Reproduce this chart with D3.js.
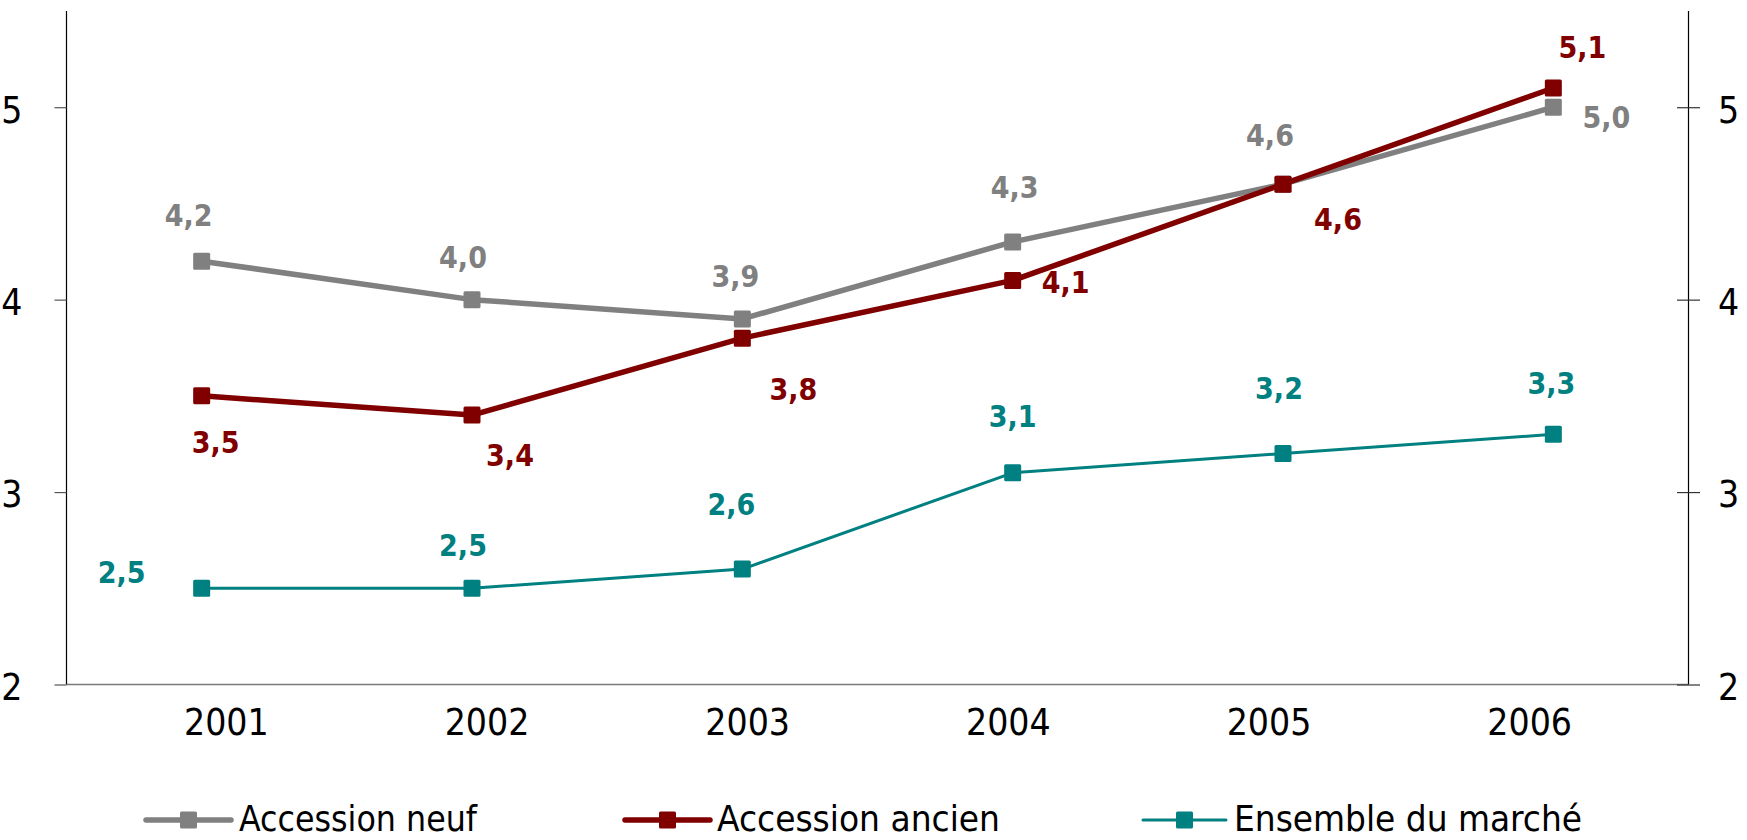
<!DOCTYPE html>
<html>
<head>
<meta charset="utf-8">
<script src="https://cdn.jsdelivr.net/npm/d3@7/dist/d3.min.js"></script>
<style>
  html, body { margin: 0; padding: 0; background: #fff; }
  svg { display: block; }
  text { font-family: "DejaVu Sans Condensed", "DejaVu Sans", "Liberation Sans", sans-serif; font-stretch: condensed; }
</style>
</head>
<body>
<svg id="chart" width="1747" height="840"></svg>
<script>
// ---- data ----
const years = ["2001", "2002", "2003", "2004", "2005", "2006"];
const accessionNeuf   = [4.2, 4.0, 3.9, 4.3, 4.6, 5.0];
const accessionAncien = [3.5, 3.4, 3.8, 4.1, 4.6, 5.1];
const ensembleMarche  = [2.5, 2.5, 2.6, 3.1, 3.2, 3.3];
const yTicks = [2, 3, 4, 5];
const seriesNames = ["Accession neuf", "Accession ancien", "Ensemble du marché"];

// ---- layout ----
const plotLeft = 66.5, plotRight = 1688.5, plotTop = 11, plotBottom = 684.5;

const svg = d3.select("#chart");

const x = d3.scaleBand().domain(years).range([plotLeft, plotRight]).padding(0);
const xLab = d3.scaleBand().domain(years).range([96, 1660]).padding(0);
const y = d3.scaleLinear().domain([2, 5.5]).range([plotBottom, plotTop]);

const fmt = v => d3.format(".1f")(v).replace(".", ",");

// series styling and label nudges (dx, dy from the marker centre)
const series = [
  { name: seriesNames[0], values: accessionNeuf, color: "#808080", width: 5.5,
    nudge: [[-13,-46],[-9,-42],[-7,-43],[2,-55],[-13,-49],[53,10]] },
  { name: seriesNames[1], values: accessionAncien, color: "#800000", width: 5.5,
    nudge: [[14,46],[38,40],[51,51],[53,2],[55,35],[29,-41]] },
  { name: seriesNames[2], values: ensembleMarche, color: "#008080", width: 3,
    nudge: [[-80,-16],[-9,-43],[-11,-65],[0,-57],[-4,-65],[-2,-51]] }
];

// ---- axes ----
// bottom baseline
svg.append("line")
  .attr("x1", plotLeft).attr("x2", plotRight).attr("y1", plotBottom).attr("y2", plotBottom)
  .attr("stroke", "#7a7a7a").attr("stroke-width", 1.3);

// left axis
const yLeft = svg.append("g").attr("transform", `translate(${plotLeft},0)`)
  .call(d3.axisLeft(y).tickValues(yTicks).tickSize(12).tickPadding(32).tickFormat(d3.format("d")));
yLeft.select(".domain").attr("d", `M0,${plotTop}V${plotBottom}`).attr("stroke", "#000").attr("stroke-width", 1.2);
yLeft.selectAll(".tick line").attr("stroke", "#555").attr("stroke-width", 1.2);
yLeft.selectAll(".tick text").attr("font-size", 37).attr("fill", "#000").attr("dy", "0.4em");

// right axis
const yRight = svg.append("g").attr("transform", `translate(${plotRight},0)`)
  .call(d3.axisRight(y).tickValues(yTicks).tickSize(11.5).tickPadding(18).tickFormat(d3.format("d")));
yRight.select(".domain").attr("d", `M0,${plotTop}V${plotBottom}`).attr("stroke", "#000").attr("stroke-width", 1.2);
yRight.selectAll(".tick line").attr("x1", -11.5).attr("stroke", "#333").attr("stroke-width", 1.2);
yRight.selectAll(".tick text").attr("font-size", 37).attr("fill", "#000").attr("dy", "0.4em");

// category labels
const xAxis = svg.append("g").attr("transform", `translate(0,${plotBottom})`)
  .call(d3.axisBottom(xLab).tickSize(0).tickPadding(0));
xAxis.select(".domain").remove();
xAxis.selectAll(".tick text").attr("font-size", 37).attr("fill", "#000").attr("dy", null).attr("y", 50.5);

// ---- lines, markers, labels ----
const line = d3.line().x((d, i) => x(years[i]) + x.bandwidth() / 2).y(d => y(d));
const M = 17;

series.forEach(s => {
  const g = svg.append("g");
  g.append("path").datum(s.values)
    .attr("d", line).attr("fill", "none")
    .attr("stroke", s.color).attr("stroke-width", s.width).attr("stroke-linejoin", "round");
  g.selectAll("rect").data(s.values).join("rect")
    .attr("x", (d, i) => x(years[i]) + x.bandwidth() / 2 - M / 2)
    .attr("y", d => y(d) - M / 2)
    .attr("width", M).attr("height", M).attr("rx", 1.5)
    .attr("fill", s.color);
});

series.forEach(s => {
  svg.append("g").selectAll("text").data(s.values).join("text")
    .attr("x", (d, i) => x(years[i]) + x.bandwidth() / 2 + s.nudge[i][0])
    .attr("y", (d, i) => y(d) + s.nudge[i][1])
    .attr("dy", "0.36em")
    .attr("text-anchor", "middle")
    .attr("font-size", 30).attr("font-weight", "bold")
    .attr("fill", s.color)
    .text(d => fmt(d));
});

// ---- legend ----
const legendItems = [
  { s: series[0], x0: 146, x1: 231, tx: 239, tw: 238 },
  { s: series[1], x0: 625, x1: 710, tx: 717, tw: 283 },
  { s: series[2], x0: 1143, x1: 1226, tx: 1234, tw: 348 }
];
const ly = 820;
const lg = svg.append("g");
legendItems.forEach(it => {
  lg.append("line")
    .attr("x1", it.x0).attr("x2", it.x1).attr("y1", ly).attr("y2", ly)
    .attr("stroke", it.s.color).attr("stroke-width", it.s.width === 3 ? 3 : 5.5)
    .attr("stroke-linecap", "round");
  lg.append("rect")
    .attr("x", (it.x0 + it.x1) / 2 - M / 2).attr("y", ly - M / 2)
    .attr("width", M).attr("height", M).attr("rx", 1.5)
    .attr("fill", it.s.color);
  lg.append("text")
    .attr("x", it.tx).attr("y", 831)
    .attr("font-size", 35).attr("fill", "#000")
    .attr("textLength", it.tw).attr("lengthAdjust", "spacingAndGlyphs")
    .text(it.s.name);
});
</script>
</body>
</html>
